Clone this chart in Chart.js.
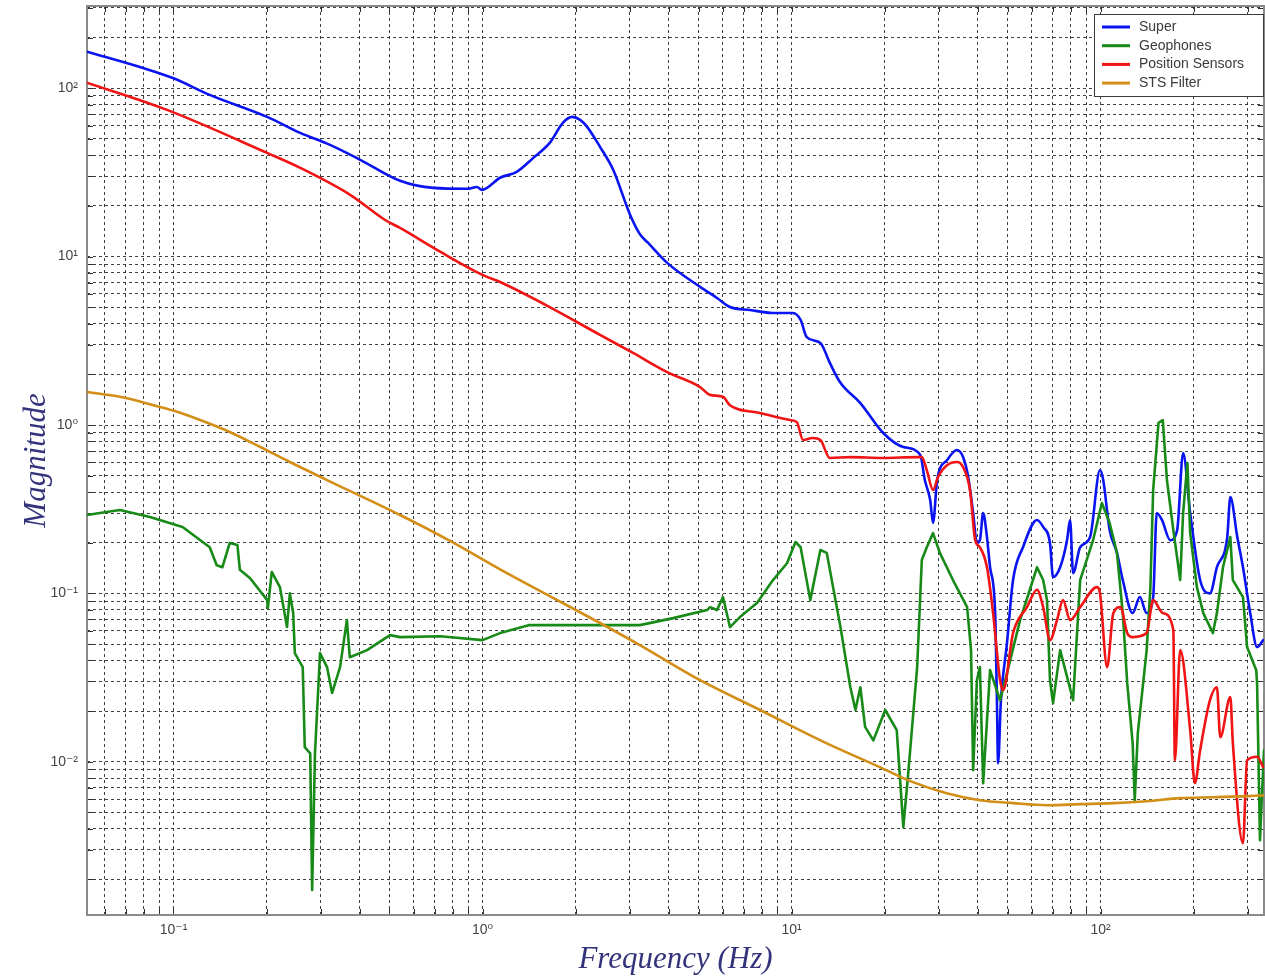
<!DOCTYPE html>
<html>
<head>
<meta charset="utf-8">
<script src="https://cdn.jsdelivr.net/npm/chart.js@4.4.1/dist/chart.umd.min.js"></script>
<style>
  html, body { margin: 0; padding: 0; background: #ffffff; }
  #wrap { width: 1265px; height: 980px; }
</style>
</head>
<body>
<div id="wrap"><canvas id="c" width="1265" height="980"></canvas></div>
<script>
// Frequency response magnitudes (Hz vs. magnitude)
const superFreq = [0.0525,0.0797,0.0996,0.131,0.201,0.257,0.321,0.402,0.541,0.692,0.891,0.960,0.996,1.14,1.29,1.46,1.65,1.82,1.95,2.07,2.18,2.40,2.65,3.00,3.23,3.43,3.96,5.06,5.74,6.32,7.34,8.71,10.1,10.7,11.2,12.4,13.3,14.4,16.7,19.8,23.0,26.1,27.0,28.1,28.7,29.6,31.9,34.3,35.9,37.3,38.7,39.8,40.7,41.7,42.9,43.9,45.6,46.2,46.6,47.6,49.8,52.1,56.1,62.3,65.2,68.6,70.2,74.0,77.9,79.7,81.5,85.9,92.5,99.6,102,107,113,118,127,134,141,148,152,158,168,177,185,195,210,226,238,257,263,277,289,305,321,336];
const superMag  = [165,132,115,91.4,67.6,54.3,46.1,37.6,28.2,25.6,25.3,25.9,24.9,29.4,31.9,38.6,47.4,62.3,67.6,64.9,59.0,44.9,32.7,17.8,13.6,12.1,9.18,6.61,5.68,5.02,4.82,4.63,4.63,4.21,3.33,3.07,2.34,1.78,1.35,0.896,0.740,0.663,0.471,0.358,0.262,0.471,0.620,0.710,0.645,0.491,0.300,0.199,0.207,0.300,0.216,0.143,0.0764,0.0232,0.00981,0.0232,0.0507,0.120,0.188,0.273,0.248,0.199,0.125,0.143,0.207,0.273,0.132,0.188,0.216,0.540,0.471,0.238,0.174,0.120,0.0764,0.0951,0.0764,0.0951,0.300,0.273,0.207,0.238,0.682,0.300,0.120,0.100,0.143,0.216,0.373,0.216,0.143,0.0764,0.0480,0.0528];

const geoFreq = [0.0525,0.0578,0.0671,0.0839,0.107,0.131,0.138,0.144,0.152,0.161,0.164,0.177,0.201,0.202,0.208,0.221,0.233,0.238,0.244,0.247,0.262,0.266,0.277,0.281,0.287,0.298,0.314,0.326,0.346,0.364,0.372,0.423,0.502,0.541,0.729,1.00,1.14,1.42,2.40,3.23,4.14,5.33,5.45,5.74,6.00,6.32,6.81,7.73,8.71,9.67,10.3,10.7,11.5,12.4,13.0,14.4,15.5,16.1,16.7,17.3,18.4,20.1,21.9,23.0,23.8,25.5,26.4,27.4,28.7,30.2,33.3,37.0,38.1,38.7,39.8,40.7,41.7,43.9,47.3,49.8,54.9,62.3,65.2,67.1,68.6,70.2,74.0,81.5,85.9,94.6,101,107,113,118,122,127,129,132,141,145,148,154,159,164,172,181,185,191,195,205,215,231,238,249,263,268,289,298,319,321,328,338];
const geoMag  = [0.292,0.300,0.313,0.284,0.248,0.188,0.147,0.143,0.199,0.194,0.138,0.123,0.0912,0.0818,0.134,0.109,0.0631,0.100,0.0764,0.0442,0.0365,0.0122,0.0112,0.00173,0.0112,0.0442,0.0365,0.0256,0.0365,0.0694,0.0418,0.0460,0.0565,0.0550,0.0557,0.0528,0.0581,0.0648,0.0648,0.0648,0.0713,0.0796,0.0829,0.0796,0.0951,0.0631,0.0723,0.0876,0.120,0.151,0.202,0.188,0.0912,0.181,0.174,0.0631,0.0277,0.0203,0.0277,0.0161,0.0134,0.0203,0.0154,0.00409,0.00810,0.0365,0.158,0.188,0.228,0.174,0.120,0.0829,0.0460,0.00891,0.0305,0.0365,0.00746,0.0350,0.0232,0.0336,0.0694,0.143,0.120,0.0912,0.0305,0.0223,0.0460,0.0232,0.120,0.207,0.344,0.262,0.174,0.0764,0.0293,0.0129,0.00591,0.0148,0.0460,0.109,0.411,1.03,1.07,0.471,0.238,0.120,0.300,0.595,0.228,0.109,0.0764,0.0581,0.0764,0.143,0.216,0.120,0.0951,0.0480,0.0350,0.0293,0.00342,0.0117];

const posFreq = [0.0525,0.0953,0.201,0.257,0.373,0.484,0.541,0.729,1.00,1.14,1.65,2.40,3.07,3.96,5.06,5.45,6.00,6.32,7.91,9.89,10.4,10.9,11.7,12.4,13.3,15.5,19.8,25.5,26.4,27.4,28.7,29.8,31.9,34.3,35.9,37.8,39.3,40.7,42.9,44.9,47.3,48.4,52.1,57.8,62.3,65.2,68.6,72.3,75.6,79.7,85.9,97.4,99.6,105,110,116,122,127,141,148,159,172,174,181,195,202,210,226,238,244,263,268,289,298,321,336];
const posMag  = [108,74.4,41.3,33.7,23.3,16.5,14.8,10.7,7.79,7.07,5.02,3.43,2.68,2.06,1.68,1.51,1.47,1.31,1.18,1.07,1.04,0.815,0.837,0.815,0.637,0.645,0.637,0.645,0.645,0.540,0.411,0.491,0.578,0.603,0.563,0.411,0.207,0.188,0.143,0.0764,0.0305,0.0266,0.0581,0.0829,0.105,0.0829,0.0528,0.0694,0.0912,0.0694,0.0829,0.109,0.100,0.0365,0.0764,0.0829,0.0581,0.0550,0.0581,0.0912,0.0764,0.0605,0.0102,0.0460,0.0154,0.00746,0.0117,0.0232,0.0277,0.0140,0.0242,0.0129,0.00328,0.0102,0.0107,0.00929];

const stsFreq = [0.0525,0.0671,0.0839,0.101,0.122,0.152,0.191,0.238,0.314,0.541,0.785,1.14,1.65,2.40,3.23,5.06,7.91,12.4,19.3,24.7,31.8,40.7,52.1,67.1,85.9,110,141,181,231,298,338];
const stsMag  = [1.57,1.47,1.33,1.21,1.07,0.909,0.740,0.603,0.471,0.292,0.205,0.139,0.0964,0.0667,0.0493,0.0305,0.0203,0.0134,0.00929,0.00757,0.00651,0.00591,0.00568,0.00552,0.00560,0.00568,0.00583,0.00608,0.00616,0.00625,0.00633];

// Axis extents and decade labels
const xRange = [0.0525, 338];
const yRange = [0.00123, 308];
const xDecades = [0.1, 1, 10, 100];
const xDecadeLabels = ['10\u207B\u00B9', '10\u2070', '10\u00B9', '10\u00B2'];
const yDecades = [0.01, 0.1, 1, 10, 100];
const yDecadeLabels = ['10\u207B\u00B2', '10\u207B\u00B9', '10\u2070', '10\u00B9', '10\u00B2'];

// every 1..9 x 10^n step inside the range, for the dashed log grid
function logGridValues(min, max) {
  const out = [];
  for (let e = Math.floor(Math.log10(min)); e <= Math.ceil(Math.log10(max)); e++) {
    for (let s = 1; s <= 9; s++) {
      const v = +(s * Math.pow(10, e)).toPrecision(6);
      if (v >= min && v <= max) out.push(v);
    }
  }
  return out;
}
function decadeLabel(value, decades, labels) {
  for (let i = 0; i < decades.length; i++) {
    if (Math.abs(value / decades[i] - 1) < 1e-6) return labels[i];
  }
  return '';
}
const pairs = (fx, my) => fx.map((f, i) => ({ x: f, y: my[i] }));

// frame with inward tick marks
const frame = {
  id: 'frame',
  beforeDatasetsDraw(chart) {
    const { ctx, chartArea: a, scales } = chart;
    ctx.save();
    ctx.strokeStyle = '#2e2e2e';
    ctx.lineWidth = 1;
    ctx.setLineDash([]);
    ctx.beginPath();
    scales.x.ticks.forEach(t => {
      const px = Math.round(scales.x.getPixelForValue(t.value)) + 0.5;
      ctx.moveTo(px, a.bottom); ctx.lineTo(px, a.bottom - 6);
      ctx.moveTo(px, a.top); ctx.lineTo(px, a.top + 6);
    });
    scales.y.ticks.forEach(t => {
      const py = Math.round(scales.y.getPixelForValue(t.value)) + 0.5;
      ctx.moveTo(a.left, py); ctx.lineTo(a.left + 6, py);
      ctx.moveTo(a.right, py); ctx.lineTo(a.right - 6, py);
    });
    ctx.stroke();
    ctx.strokeStyle = '#8a8a8a';
    ctx.lineWidth = 2;
    ctx.strokeRect(a.left, a.top, a.right - a.left, a.bottom - a.top);
    ctx.restore();
  }
};

// legend box in the upper right corner of the plot
const insetLegend = {
  id: 'insetLegend',
  afterDatasetsDraw(chart) {
    const { ctx, chartArea: a } = chart;
    const w = 170, h = 83;
    const x0 = a.right - w, y0 = a.top + 8;
    ctx.save();
    ctx.fillStyle = '#ffffff';
    ctx.fillRect(x0, y0, w, h);
    ctx.strokeStyle = '#3a3a3a';
    ctx.lineWidth = 1;
    ctx.setLineDash([]);
    ctx.strokeRect(x0 + 0.5, y0 + 0.5, w - 1, h - 1);
    ctx.font = '14px "Liberation Sans", Arial, sans-serif';
    ctx.textBaseline = 'middle';
    chart.data.datasets.forEach((ds, i) => {
      const yy = y0 + 13 + i * 18.7;
      ctx.strokeStyle = ds.borderColor;
      ctx.lineWidth = 3;
      ctx.beginPath();
      ctx.moveTo(x0 + 8, yy); ctx.lineTo(x0 + 36, yy);
      ctx.stroke();
      ctx.fillStyle = '#3a3a3a';
      ctx.fillText(ds.label, x0 + 45, yy);
    });
    ctx.restore();
  }
};

// smooth traces use monotone curves; the noisy geophone trace stays jagged
const smoothLine = { borderWidth: 2.6, pointRadius: 0, fill: false, cubicInterpolationMode: 'monotone', borderJoinStyle: 'round', borderCapStyle: 'round' };
const jaggedLine = { borderWidth: 2.6, pointRadius: 0, fill: false, tension: 0, borderJoinStyle: 'round', borderCapStyle: 'round' };

new Chart(document.getElementById('c'), {
  type: 'line',
  data: {
    datasets: [
      Object.assign({ label: 'Super', data: pairs(superFreq, superMag), borderColor: '#0a14f0', order: 4 }, smoothLine),
      Object.assign({ label: 'Geophones', data: pairs(geoFreq, geoMag), borderColor: '#188a18', order: 3 }, jaggedLine),
      Object.assign({ label: 'Position Sensors', data: pairs(posFreq, posMag), borderColor: '#f01414', order: 2 }, smoothLine),
      Object.assign({ label: 'STS Filter', data: pairs(stsFreq, stsMag), borderColor: '#d28e16', order: 1 }, smoothLine)
    ]
  },
  plugins: [frame, insetLegend],
  options: {
    responsive: false,
    animation: false,
    devicePixelRatio: 1,
    layout: { padding: { top: 6, right: 1, left: 0, bottom: 0 } },
    plugins: { legend: { display: false }, tooltip: { enabled: false } },
    scales: {
      x: {
        type: 'logarithmic',
        min: xRange[0], max: xRange[1],
        afterBuildTicks: s => { s.ticks = logGridValues(xRange[0], xRange[1]).map(v => ({ value: v })); },
        afterFit: s => { s.height = 65; s.paddingLeft = 0; s.paddingRight = 0; },
        grid: { color: 'rgba(30,30,30,0.85)', lineWidth: 1, drawTicks: false },
        border: { display: false, dash: [3, 3] },
        ticks: {
          autoSkip: false, maxRotation: 0, padding: 7,
          color: '#444444',
          font: { family: '"Liberation Sans", "DejaVu Sans", sans-serif', size: 14 },
          callback: v => decadeLabel(v, xDecades, xDecadeLabels)
        },
        title: {
          display: true, text: 'Frequency (Hz)', color: '#34347c',
          font: { family: '"Liberation Serif", "DejaVu Serif", serif', style: 'italic', size: 31 },
          padding: { top: 0, bottom: 2 }
        }
      },
      y: {
        type: 'logarithmic',
        min: yRange[0], max: yRange[1],
        afterBuildTicks: s => { s.ticks = logGridValues(yRange[0], yRange[1]).map(v => ({ value: v })); },
        afterFit: s => { s.width = 87; s.paddingTop = 0; s.paddingBottom = 0; },
        grid: { color: 'rgba(30,30,30,0.85)', lineWidth: 1, drawTicks: false },
        border: { display: false, dash: [3, 3] },
        ticks: {
          autoSkip: false, padding: 9,
          color: '#444444',
          font: { family: '"Liberation Sans", "DejaVu Sans", sans-serif', size: 14 },
          callback: v => decadeLabel(v, yDecades, yDecadeLabels)
        },
        title: {
          display: true, text: 'Magnitude', color: '#34347c',
          font: { family: '"Liberation Serif", "DejaVu Serif", serif', style: 'italic', size: 31 },
          padding: { top: 18, bottom: 0 }
        }
      }
    }
  }
});
</script>
</body>
</html>
